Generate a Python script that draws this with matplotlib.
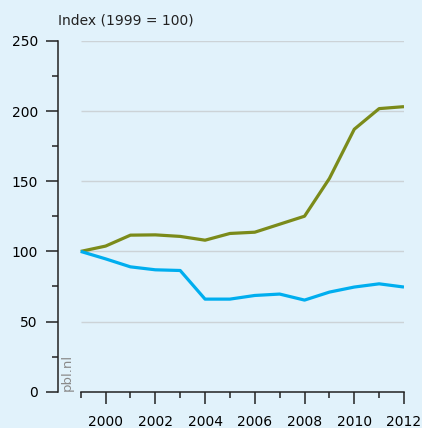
import matplotlib.pyplot as plt
from matplotlib.ticker import MultipleLocator

years = list(range(1999, 2013))
green_index = [100, 103.8, 111.6, 111.8, 110.7, 108, 112.8, 113.7, 119.4, 125.1, 152, 187.1, 201.8, 203.2]
blue_index = [100, 94.7, 89, 86.9, 86.4, 66, 66, 68.6, 69.6, 65.3, 71, 74.6, 76.9, 74.6]
grid_values = [50, 100, 150, 200, 250]
xtick_years = [2000, 2002, 2004, 2006, 2008, 2010, 2012]

bg = '#e1f2fb'
fig = plt.figure(figsize=(4.22, 4.28), dpi=100, facecolor=bg)
ax = fig.add_axes([58/422, (428-391.7)/428, (404-58)/422, (391.7-41)/428])
ax.set_facecolor(bg)

ax.hlines(grid_values, years[0], years[-1], color='#ccd3d7', linewidth=1.0, zorder=1)
ax.plot(years, green_index, color='#7b8b1a', linewidth=2.3, zorder=3, solid_capstyle='butt')
ax.plot(years, blue_index, color='#00aeef', linewidth=2.3, zorder=3, solid_capstyle='butt')

ax.set_xlim(1999 - 0.913, 2012)
ax.set_ylim(0, 250)

for s in ['top', 'right']:
    ax.spines[s].set_visible(False)
ax.spines['left'].set_bounds(0, 250)
ax.spines['bottom'].set_bounds(1999, 2012)
for s in ['left', 'bottom']:
    ax.spines[s].set_color('#222222')
    ax.spines[s].set_linewidth(1.1)

ax.yaxis.set_major_locator(MultipleLocator(50))
ax.yaxis.set_minor_locator(MultipleLocator(25))
ax.set_xticks(xtick_years)
ax.set_xticks([y for y in years if y % 2 == 1], minor=True)

ax.tick_params(axis='y', which='major', length=8.5, width=1.1, color='#222222', pad=6, labelsize=10)
ax.tick_params(axis='y', which='minor', length=4.5, width=1.1, color='#222222')
ax.tick_params(axis='x', which='major', length=8.5, width=1.1, color='#222222', pad=8, labelsize=10)
ax.tick_params(axis='x', which='minor', length=4.5, width=1.1, color='#222222')

fig.text(58/422, 1 - 20.5/428, 'Index (1999 = 100)', fontsize=10, ha='left', va='center', color='#222222')
fig.text(67.5/422, 1 - 372/428, 'pbl.nl', fontsize=9.5, rotation=90, ha='center', va='center', color='#8a8a8a')

fig.savefig('out.png', dpi=100, facecolor=bg)
